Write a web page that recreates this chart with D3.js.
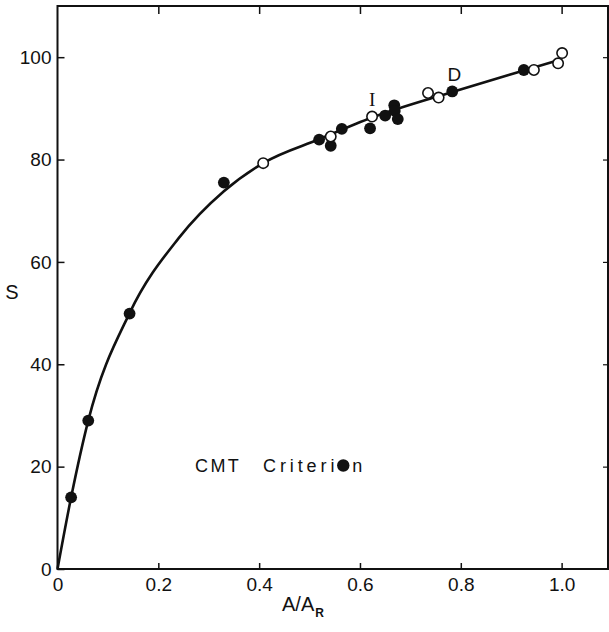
<!DOCTYPE html>
<html>
<head>
<meta charset="utf-8">
<script src="https://cdn.jsdelivr.net/npm/d3@7"></script>
<style>
  body { margin: 0; background: #fff; }
  svg text { font-family: "Liberation Sans", Arial, sans-serif; fill: #111; white-space: pre; }
</style>
</head>
<body>
<svg id="chart" width="609" height="632"></svg>
<script>
// data
var filledX = [0.027, 0.061, 0.143, 0.330, 0.519, 0.542, 0.564, 0.620, 0.650, 0.668, 0.669, 0.675, 0.783, 0.925];
var filledY = [14.0, 29.0, 49.9, 75.5, 83.9, 82.7, 86.0, 86.1, 88.6, 90.6, 89.5, 87.9, 93.3, 97.5];
var openX = [0.408, 0.542, 0.624, 0.735, 0.756, 0.945, 0.993, 1.001];
var openY = [79.3, 84.5, 88.4, 93.0, 92.1, 97.5, 98.8, 100.8];
var curveX = [0, 0.027, 0.061, 0.143, 0.24, 0.33, 0.408, 0.52, 0.624, 0.783, 0.925, 0.99];
var curveY = [0, 14.0, 29.0, 50.0, 64.6, 73.8, 79.3, 84.0, 88.2, 93.2, 97.4, 99.3];
var xTicks = [0, 0.2, 0.4, 0.6, 0.8, 1.0];
var yTicks = [0, 20, 40, 60, 80, 100];
var labelsPts = [{t: "I", x: 0.624, y: 90.4, serif: true}, {t: "D", x: 0.787, y: 95.3, serif: false}];

drawChart();

function drawChart() {
  var mLeft = 57.5, mRight = 608, mTop = 6, mBottom = 569;

  var svg = d3.select("#chart");

  var xScale = d3.scaleLinear().domain([0, 1.092]).range([mLeft, mRight]);
  var yScale = d3.scaleLinear().domain([0, 110]).range([mBottom, mTop]);

  // frame
  svg.append("rect")
      .attr("x", mLeft).attr("y", mTop)
      .attr("width", mRight - mLeft).attr("height", mBottom - mTop)
      .attr("fill", "none").attr("stroke", "#111").attr("stroke-width", 2);

  // bottom axis, ticks pointing in
  var xAxis = svg.append("g")
      .attr("transform", "translate(0," + mBottom + ")")
      .call(d3.axisBottom(xScale).tickValues(xTicks).tickSize(-6).tickPadding(9)
        .tickFormat(function(d) { return d === 0 ? "0" : d3.format(".1f")(d); }));
  xAxis.select(".domain").remove();
  xAxis.selectAll("line").attr("stroke", "#111").attr("stroke-width", 1.5);
  xAxis.selectAll("text").attr("font-size", 19).attr("fill", "#111");

  // top ticks
  var xTop = svg.append("g")
      .attr("transform", "translate(0," + mTop + ")")
      .call(d3.axisTop(xScale).tickValues(xTicks.slice(1)).tickSize(-8).tickFormat(""));
  xTop.select(".domain").remove();
  xTop.selectAll("line").attr("stroke", "#111").attr("stroke-width", 1.5);

  // left axis
  var yAxis = svg.append("g")
      .attr("transform", "translate(" + mLeft + ",0)")
      .call(d3.axisLeft(yScale).tickValues(yTicks).tickSize(-7).tickPadding(6));
  yAxis.select(".domain").remove();
  yAxis.selectAll("line").attr("stroke", "#111").attr("stroke-width", 1.5);
  yAxis.selectAll("text").attr("font-size", 19).attr("fill", "#111");

  // right ticks
  var yRight = svg.append("g")
      .attr("transform", "translate(" + mRight + ",0)")
      .call(d3.axisRight(yScale).tickValues(yTicks.slice(1)).tickSize(-5).tickFormat(""));
  yRight.select(".domain").remove();
  yRight.selectAll("line").attr("stroke", "#111").attr("stroke-width", 1.2);

  // axis titles
  svg.append("text").attr("x", 12).attr("y", 299)
      .attr("font-size", 20).attr("text-anchor", "middle").text("S");
  var xt = svg.append("text").attr("x", 303).attr("y", 611)
      .attr("font-size", 20).attr("text-anchor", "middle");
  xt.append("tspan").text("A/A");
  xt.append("tspan").attr("font-size", 12).attr("font-weight", "bold").attr("dx", 1).attr("dy", 6).text("R");

  // fitted curve
  var line = d3.line()
      .x(function(d) { return xScale(d[0]); })
      .y(function(d) { return yScale(d[1]); })
      .curve(d3.curveMonotoneX);
  svg.append("path")
      .datum(d3.zip(curveX, curveY))
      .attr("d", line)
      .attr("fill", "none").attr("stroke", "#111").attr("stroke-width", 2.6);

  // points
  svg.append("g").selectAll("circle")
      .data(d3.zip(filledX, filledY))
      .join("circle")
      .attr("cx", function(d) { return xScale(d[0]); })
      .attr("cy", function(d) { return yScale(d[1]); })
      .attr("r", 5.9).attr("fill", "#111");

  svg.append("g").selectAll("circle")
      .data(d3.zip(openX, openY))
      .join("circle")
      .attr("cx", function(d) { return xScale(d[0]); })
      .attr("cy", function(d) { return yScale(d[1]); })
      .attr("r", 5.2).attr("fill", "#fff").attr("stroke", "#111").attr("stroke-width", 1.6);

  // point labels
  labelsPts.forEach(function(p) {
    svg.append("text")
      .attr("x", xScale(p.x)).attr("y", yScale(p.y))
      .attr("text-anchor", "middle").attr("font-size", 19)
      .style("font-family", p.serif ? "'Liberation Serif', serif" : null)
      .text(p.t);
  });

  // note with a dot standing in for the "o"
  svg.append("text").attr("x", 195).attr("y", 472)
      .attr("font-size", 18).attr("letter-spacing", 2.4).text("CMT");
  var note = svg.append("text").attr("x", 263).attr("y", 472)
      .attr("font-size", 18).attr("letter-spacing", 3.9);
  var pre = "Criteri";
  note.append("tspan").text(pre);
  note.append("tspan").attr("fill-opacity", 0).text("o");
  note.append("tspan").text("n");
  var node = note.node();
  var p0 = node.getStartPositionOfChar(pre.length), p1 = node.getEndPositionOfChar(pre.length);
  svg.append("circle")
      .attr("cx", (p0.x + p1.x) / 2 - 2).attr("cy", p0.y - 6.5)
      .attr("r", 6.2).attr("fill", "#111");
}
</script>
</body>
</html>
